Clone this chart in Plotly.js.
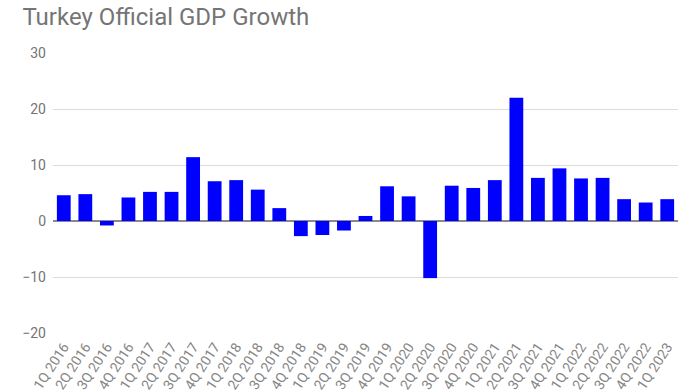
<!DOCTYPE html>
<html>
<head>
<meta charset="utf-8">
<script src="https://cdn.plot.ly/plotly-3.0.1.min.js"></script>
<style>html,body{margin:0;padding:0;background:#fff;}#chart{width:700px;height:392px;}</style>
</head>
<body>
<div id="chart"></div>
<script>
const quarters = ["1Q 2016","2Q 2016","3Q 2016","4Q 2016","1Q 2017","2Q 2017","3Q 2017","4Q 2017","1Q 2018","2Q 2018","3Q 2018","4Q 2018","1Q 2019","2Q 2019","3Q 2019","4Q 2019","1Q 2020","2Q 2020","3Q 2020","4Q 2020","1Q 2021","2Q 2021","3Q 2021","4Q 2021","1Q 2022","2Q 2022","3Q 2022","4Q 2022","1Q 2023"];
const gdpGrowth = [4.6,4.8,-0.8,4.2,5.2,5.2,11.4,7.1,7.3,5.6,2.3,-2.7,-2.5,-1.7,0.9,6.2,4.4,-10.2,6.3,5.9,7.3,22.0,7.7,9.4,7.6,7.7,3.9,3.3,3.9];
const yTicks = [-20,-10,0,10,20,30];

Plotly.newPlot('chart', [{
  type: 'bar',
  x: quarters,
  y: gdpGrowth,
  marker: {color: '#0000ff'},
  hoverinfo: 'x+y'
}], {
  width: 700, height: 392,
  margin: {l: 53, r: 22, t: 53, b: 59},
  paper_bgcolor: '#fff', plot_bgcolor: '#fff',
  title: {text: 'Turkey Official GDP Growth', x: 0.032, xanchor: 'left', y: 0.957, yanchor: 'middle',
          font: {family: 'Roboto', size: 24, color: '#757575'}},
  bargap: 0.36,
  showlegend: false,
  xaxis: {
    type: 'category', tickangle: -57, automargin: false,
    tickfont: {family: 'Roboto', size: 14, color: '#858585'},
    showgrid: false, showline: false, ticks: '', ticklabelstandoff: 2
  },
  yaxis: {
    range: [-20, 30], tickvals: yTicks, automargin: false,
    tickfont: {family: 'Roboto', size: 14, color: '#757575'},
    gridcolor: '#dcdcdc', gridwidth: 1,
    zeroline: true, zerolinecolor: '#8a8a8a', zerolinewidth: 1.5,
    ticks: '', ticklabelstandoff: 6
  }
}, {displayModeBar: false, staticPlot: true});
</script>
</body>
</html>
